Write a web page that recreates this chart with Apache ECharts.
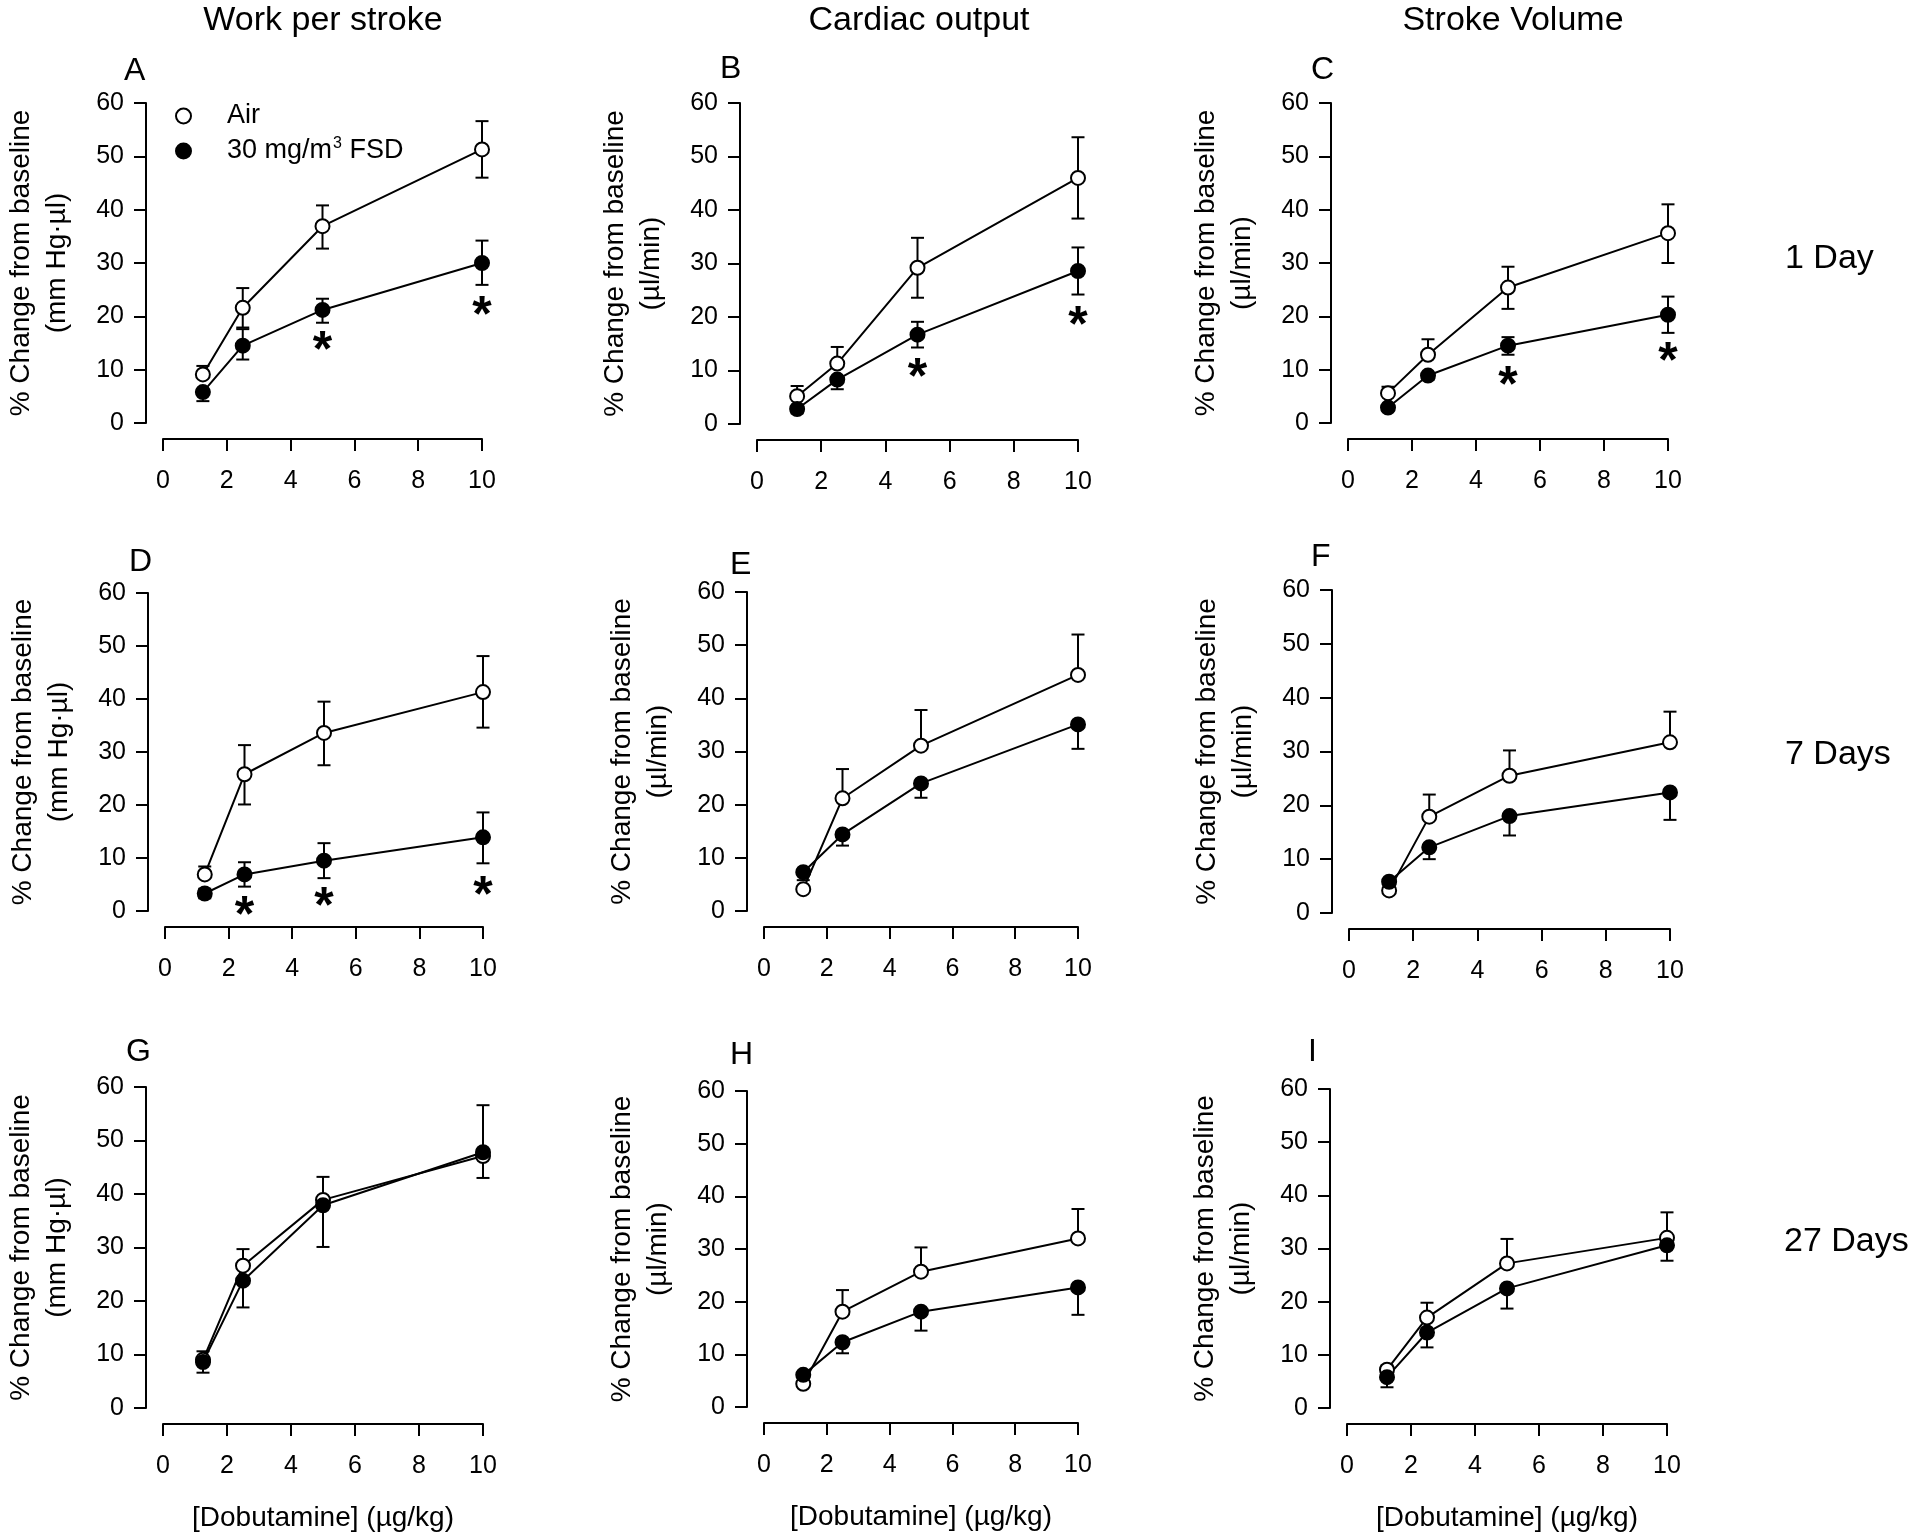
<!DOCTYPE html>
<html>
<head>
<meta charset="utf-8">
<title>Dobutamine response</title>
<script src="https://cdn.jsdelivr.net/npm/echarts@6/dist/echarts.min.js"></script>
<style>
  html, body { margin: 0; padding: 0; background: #fff; }
  #main { width: 1920px; height: 1539px; }
</style>
</head>
<body>
<div id="main"></div>
<script>
// dobutamine doses (x) and axis ticks
var doses = [1.25, 2.5, 5, 10];
var xTicks = [0, 2, 4, 6, 8, 10];
var yTicks = [0, 10, 20, 30, 40, 50, 60];

// A - work per stroke, 1 day
var airA = [9.1, 21.6, 36.9, 51.3], airUpA = [1.6, 3.7, 3.9, 5.3], airDnA = [0, 3.7, 4.2, 5.3];
var fsdA = [5.8, 14.5, 21.2, 30.0], fsdUpA = [0, 3.1, 2.1, 4.2], fsdDnA = [1.7, 2.6, 2.4, 4.1];
var starsA = [[5, 15.5], [10, 22.0]];
// B - cardiac output, 1 day
var airB = [5.2, 11.3, 29.2, 46.0], airUpB = [1.9, 3.1, 5.6, 7.6], airDnB = [0, 0, 5.6, 7.6];
var fsdB = [2.8, 8.3, 16.7, 28.6], fsdUpB = [0, 0, 2.4, 4.4], fsdDnB = [0.8, 1.8, 2.4, 4.4];
var starsB = [[5, 10.7], [10, 20.3]];
// C - stroke volume, 1 day
var airC = [5.6, 12.8, 25.4, 35.6], airUpC = [1.2, 2.9, 3.9, 5.4], airDnC = [0, 0, 4.0, 5.6];
var fsdC = [2.9, 8.9, 14.5, 20.3], fsdUpC = [0, 0, 1.6, 3.4], fsdDnC = [0.5, 0.8, 1.7, 3.4];
var starsC = [[5, 8.9], [10, 13.4]];
// D - work per stroke, 7 days
var airD = [6.9, 25.8, 33.6, 41.3], airUpD = [1.5, 5.5, 5.9, 6.8], airDnD = [0, 5.7, 6.1, 6.7];
var fsdD = [3.3, 6.9, 9.5, 13.9], fsdUpD = [0.9, 2.3, 3.3, 4.7], fsdDnD = [0.9, 2.3, 3.3, 4.9];
var starsD = [[2.5, 1.1], [5, 2.7], [10, 4.9]];
// E - cardiac output, 7 days
var airE = [4.1, 21.2, 31.1, 44.4], airUpE = [0, 5.5, 6.7, 7.6], airDnE = [0, 0, 0, 0];
var fsdE = [7.3, 14.4, 24.0, 35.1], fsdUpE = [0, 0, 0, 0], fsdDnE = [1.5, 2.1, 2.7, 4.6];
var starsE = [];
// F - stroke volume, 7 days
var airF = [4.2, 17.9, 25.5, 31.7], airUpF = [0, 4.1, 4.7, 5.7], airDnF = [0, 0, 0, 0];
var fsdF = [5.8, 12.2, 18.0, 22.4], fsdUpF = [0, 0, 0, 0], fsdDnF = [0, 2.2, 3.6, 5.1];
var starsF = [];
// G - work per stroke, 27 days
var airG = [9.0, 26.6, 38.9, 47.1], airUpG = [1.6, 3.1, 4.3, 0], airDnG = [0, 0, 0, 4.1];
var fsdG = [8.6, 23.8, 37.9, 47.8], fsdUpG = [0, 0, 0, 8.8], fsdDnG = [2.0, 5.0, 7.8, 0];
var starsG = [];
// H - cardiac output, 27 days
var airH = [4.4, 18.1, 25.7, 32.0], airUpH = [0, 4.1, 4.6, 5.6], airDnH = [0, 0, 0, 0];
var fsdH = [6.1, 12.3, 18.1, 22.7], fsdUpH = [0, 0, 0, 0], fsdDnH = [0, 2.1, 3.6, 5.2];
var starsH = [];
// I - stroke volume, 27 days
var airI = [7.2, 17.0, 27.2, 32.0], airUpI = [0.8, 2.8, 4.6, 4.8], airDnI = [0, 0, 0, 0];
var fsdI = [5.8, 14.2, 22.5, 30.6], fsdUpI = [0, 0, 0, 0], fsdDnI = [1.9, 2.8, 3.8, 2.9];
var starsI = [];

var colTitles = ['Work per stroke', 'Cardiac output', 'Stroke Volume'];
var rowTitles = ['1 Day', '7 Days', '27 Days'];
var panelLetters = ['A', 'B', 'C', 'D', 'E', 'F', 'G', 'H', 'I'];
var yNames = ['% Change from baseline\n(mm Hg\u00b7\u00b5l)', '% Change from baseline\n(\u00b5l/min)', '% Change from baseline\n(\u00b5l/min)'];
var xName = '[Dobutamine] (\u00b5g/kg)';
var airName = 'Air', fsdName = '30 mg/m3 FSD';

var panels = [
  [airA, airUpA, airDnA, fsdA, fsdUpA, fsdDnA, starsA],
  [airB, airUpB, airDnB, fsdB, fsdUpB, fsdDnB, starsB],
  [airC, airUpC, airDnC, fsdC, fsdUpC, fsdDnC, starsC],
  [airD, airUpD, airDnD, fsdD, fsdUpD, fsdDnD, starsD],
  [airE, airUpE, airDnE, fsdE, fsdUpE, fsdDnE, starsE],
  [airF, airUpF, airDnF, fsdF, fsdUpF, fsdDnF, starsF],
  [airG, airUpG, airDnG, fsdG, fsdUpG, fsdDnG, starsG],
  [airH, airUpH, airDnH, fsdH, fsdUpH, fsdDnH, starsH],
  [airI, airUpI, airDnI, fsdI, fsdUpI, fsdDnI, starsI]
];

// plot boxes: x=0 px, x=10 px, y=60 px, y=0 px
var boxes = [
  [163, 482, 103, 423], [757, 1078, 103, 424], [1348, 1668, 103, 423],
  [165, 483, 593, 911], [764, 1078, 592, 911], [1349, 1670, 590, 913],
  [163, 483, 1087, 1408], [764, 1078, 1091, 1407], [1347, 1667, 1089, 1408]
];
var letterPos = [[124, 71], [720, 69], [1311, 70], [129, 562], [730, 565], [1311, 557], [126, 1052], [730, 1055], [1308, 1052]];

var FONT = "'Liberation Sans', Arial, Helvetica, sans-serif";
var BLACK = '#000';

var myChart = echarts.init(document.getElementById('main'), null, { renderer: 'canvas' });

function renderErr(params, api) {
  var x = api.value(0), y = api.value(1), up = api.value(2), dn = api.value(3);
  if (!up && !dn) return null;
  var top = api.coord([x, y + up]);
  var bot = api.coord([x, y - dn]);
  var st = { stroke: BLACK, lineWidth: 2 };
  var kids = [{ type: 'line', shape: { x1: top[0], y1: top[1], x2: bot[0], y2: bot[1] }, style: st }];
  if (up > 0) kids.push({ type: 'line', shape: { x1: top[0] - 6.5, y1: top[1], x2: top[0] + 6.5, y2: top[1] }, style: st });
  if (dn > 0) kids.push({ type: 'line', shape: { x1: bot[0] - 6.5, y1: bot[1], x2: bot[0] + 6.5, y2: bot[1] }, style: st });
  return { type: 'group', children: kids };
}

function pairs(vals) {
  return doses.map(function (d, i) { return [d, vals[i]]; });
}
function errRows(vals, up, dn) {
  return doses.map(function (d, i) { return [d, vals[i], up[i], dn[i]]; });
}

var grids = [], xAxes = [], yAxes = [], series = [], graphics = [];

panels.forEach(function (p, i) {
  var row = Math.floor(i / 3), col = i % 3;
  var b = boxes[i];
  grids.push({ left: b[0], top: b[2], width: b[1] - b[0], height: b[3] - b[2], containLabel: false });

  xAxes.push({
    gridIndex: i, type: 'value', min: 0, max: 10, interval: 2, offset: 16,
    axisLine: { show: true, onZero: false, lineStyle: { color: BLACK, width: 2 } },
    axisTick: { show: true, length: 12, lineStyle: { color: BLACK, width: 2 } },
    axisLabel: { margin: 30, fontSize: 25, color: BLACK, fontFamily: FONT },
    splitLine: { show: false },
    name: row === 2 ? xName : '', nameLocation: 'middle', nameGap: 80,
    nameTextStyle: { fontSize: 28, color: BLACK, fontFamily: FONT }
  });
  yAxes.push({
    gridIndex: i, type: 'value', min: 0, max: 60, interval: 10, offset: 17,
    axisLine: { show: true, onZero: false, lineStyle: { color: BLACK, width: 2 } },
    axisTick: { show: true, length: 12, lineStyle: { color: BLACK, width: 2 } },
    axisLabel: { margin: 22, fontSize: 25, color: BLACK, fontFamily: FONT },
    splitLine: { show: false },
    name: yNames[col], nameLocation: 'middle', nameRotate: 90, nameGap: 71,
    nameTextStyle: { fontSize: 28, lineHeight: 36, color: BLACK, fontFamily: FONT, align: 'center' }
  });

  var lineStyle = { color: BLACK, width: 2 };
  series.push({ type: 'line', xAxisIndex: i, yAxisIndex: i, data: pairs(p[0]), symbol: 'none', lineStyle: lineStyle, z: 2, silent: true });
  series.push({ type: 'line', xAxisIndex: i, yAxisIndex: i, data: pairs(p[3]), symbol: 'none', lineStyle: lineStyle, z: 2, silent: true });
  series.push({ type: 'custom', xAxisIndex: i, yAxisIndex: i, renderItem: renderErr, encode: { x: 0, y: 1 }, data: errRows(p[0], p[1], p[2]), z: 3, silent: true, clip: false });
  series.push({ type: 'custom', xAxisIndex: i, yAxisIndex: i, renderItem: renderErr, encode: { x: 0, y: 1 }, data: errRows(p[3], p[4], p[5]), z: 3, silent: true, clip: false });
  series.push({ type: 'scatter', name: airName, xAxisIndex: i, yAxisIndex: i, data: pairs(p[0]), symbol: 'circle', symbolSize: 14,
    itemStyle: { color: '#fff', borderColor: BLACK, borderWidth: 2, opacity: 1 }, z: 4, silent: true });
  series.push({ type: 'scatter', name: fsdName, xAxisIndex: i, yAxisIndex: i, data: pairs(p[3]), symbol: 'circle', symbolSize: 14,
    itemStyle: { color: BLACK, borderColor: BLACK, borderWidth: 2, opacity: 1 }, z: 4, silent: true });
  if (p[6].length) {
    series.push({ type: 'scatter', xAxisIndex: i, yAxisIndex: i, data: p[6], symbol: 'circle', symbolSize: 1,
      itemStyle: { color: 'rgba(0,0,0,0)', opacity: 1 }, z: 5, silent: true,
      label: { show: true, formatter: '*', position: 'inside', fontSize: 50, fontWeight: 'bold', color: BLACK,
        opacity: 1, textBorderWidth: 0, fontFamily: FONT, offset: [0, 12] } });
  }

  graphics.push({ type: 'text', x: letterPos[i][0], y: letterPos[i][1],
    style: { text: panelLetters[i], fontSize: 32, fontFamily: FONT, fill: BLACK, textAlign: 'left', textVerticalAlign: 'middle', align: 'left', verticalAlign: 'middle' } });
});

var colCenters = [323, 919, 1513];
colTitles.forEach(function (t, c) {
  graphics.push({ type: 'text', x: colCenters[c], y: 21,
    style: { text: t, fontSize: 34, fontFamily: FONT, fill: BLACK, textAlign: 'center', textVerticalAlign: 'middle', align: 'center', verticalAlign: 'middle' } });
});
var rowCenters = [[1785, 259], [1785, 755], [1784, 1242]];
rowTitles.forEach(function (t, r) {
  graphics.push({ type: 'text', x: rowCenters[r][0], y: rowCenters[r][1],
    style: { text: t, fontSize: 34, fontFamily: FONT, fill: BLACK, textAlign: 'left', textVerticalAlign: 'middle', align: 'left', verticalAlign: 'middle' } });
});

var option = {
  backgroundColor: '#fff',
  animation: false,
  textStyle: { fontFamily: FONT },
  grid: grids,
  xAxis: xAxes,
  yAxis: yAxes,
  legend: {
    orient: 'vertical', left: 170, top: 96, itemWidth: 15, itemHeight: 15, itemGap: 5,
    selectedMode: false,
    data: [
      { name: airName, icon: 'circle', itemStyle: { color: '#fff', borderColor: BLACK, borderWidth: 2 } },
      { name: fsdName, icon: 'circle', itemStyle: { color: BLACK, borderColor: BLACK, borderWidth: 2 } }
    ],
    formatter: function (name) {
      return name === fsdName ? '{gap| }30 mg/m{sup|3} FSD' : '{gap| }' + name;
    },
    textStyle: {
      fontSize: 27, color: BLACK, fontFamily: FONT, lineHeight: 30,
      rich: {
        gap: { width: 31, fontSize: 27, lineHeight: 30 },
        sup: { fontSize: 16, color: BLACK, fontFamily: FONT, lineHeight: 30, verticalAlign: 'top', padding: [0, 0, 0, 1] }
      }
    }
  },
  graphic: graphics,
  series: series
};

myChart.setOption(option);
</script>
</body>
</html>
